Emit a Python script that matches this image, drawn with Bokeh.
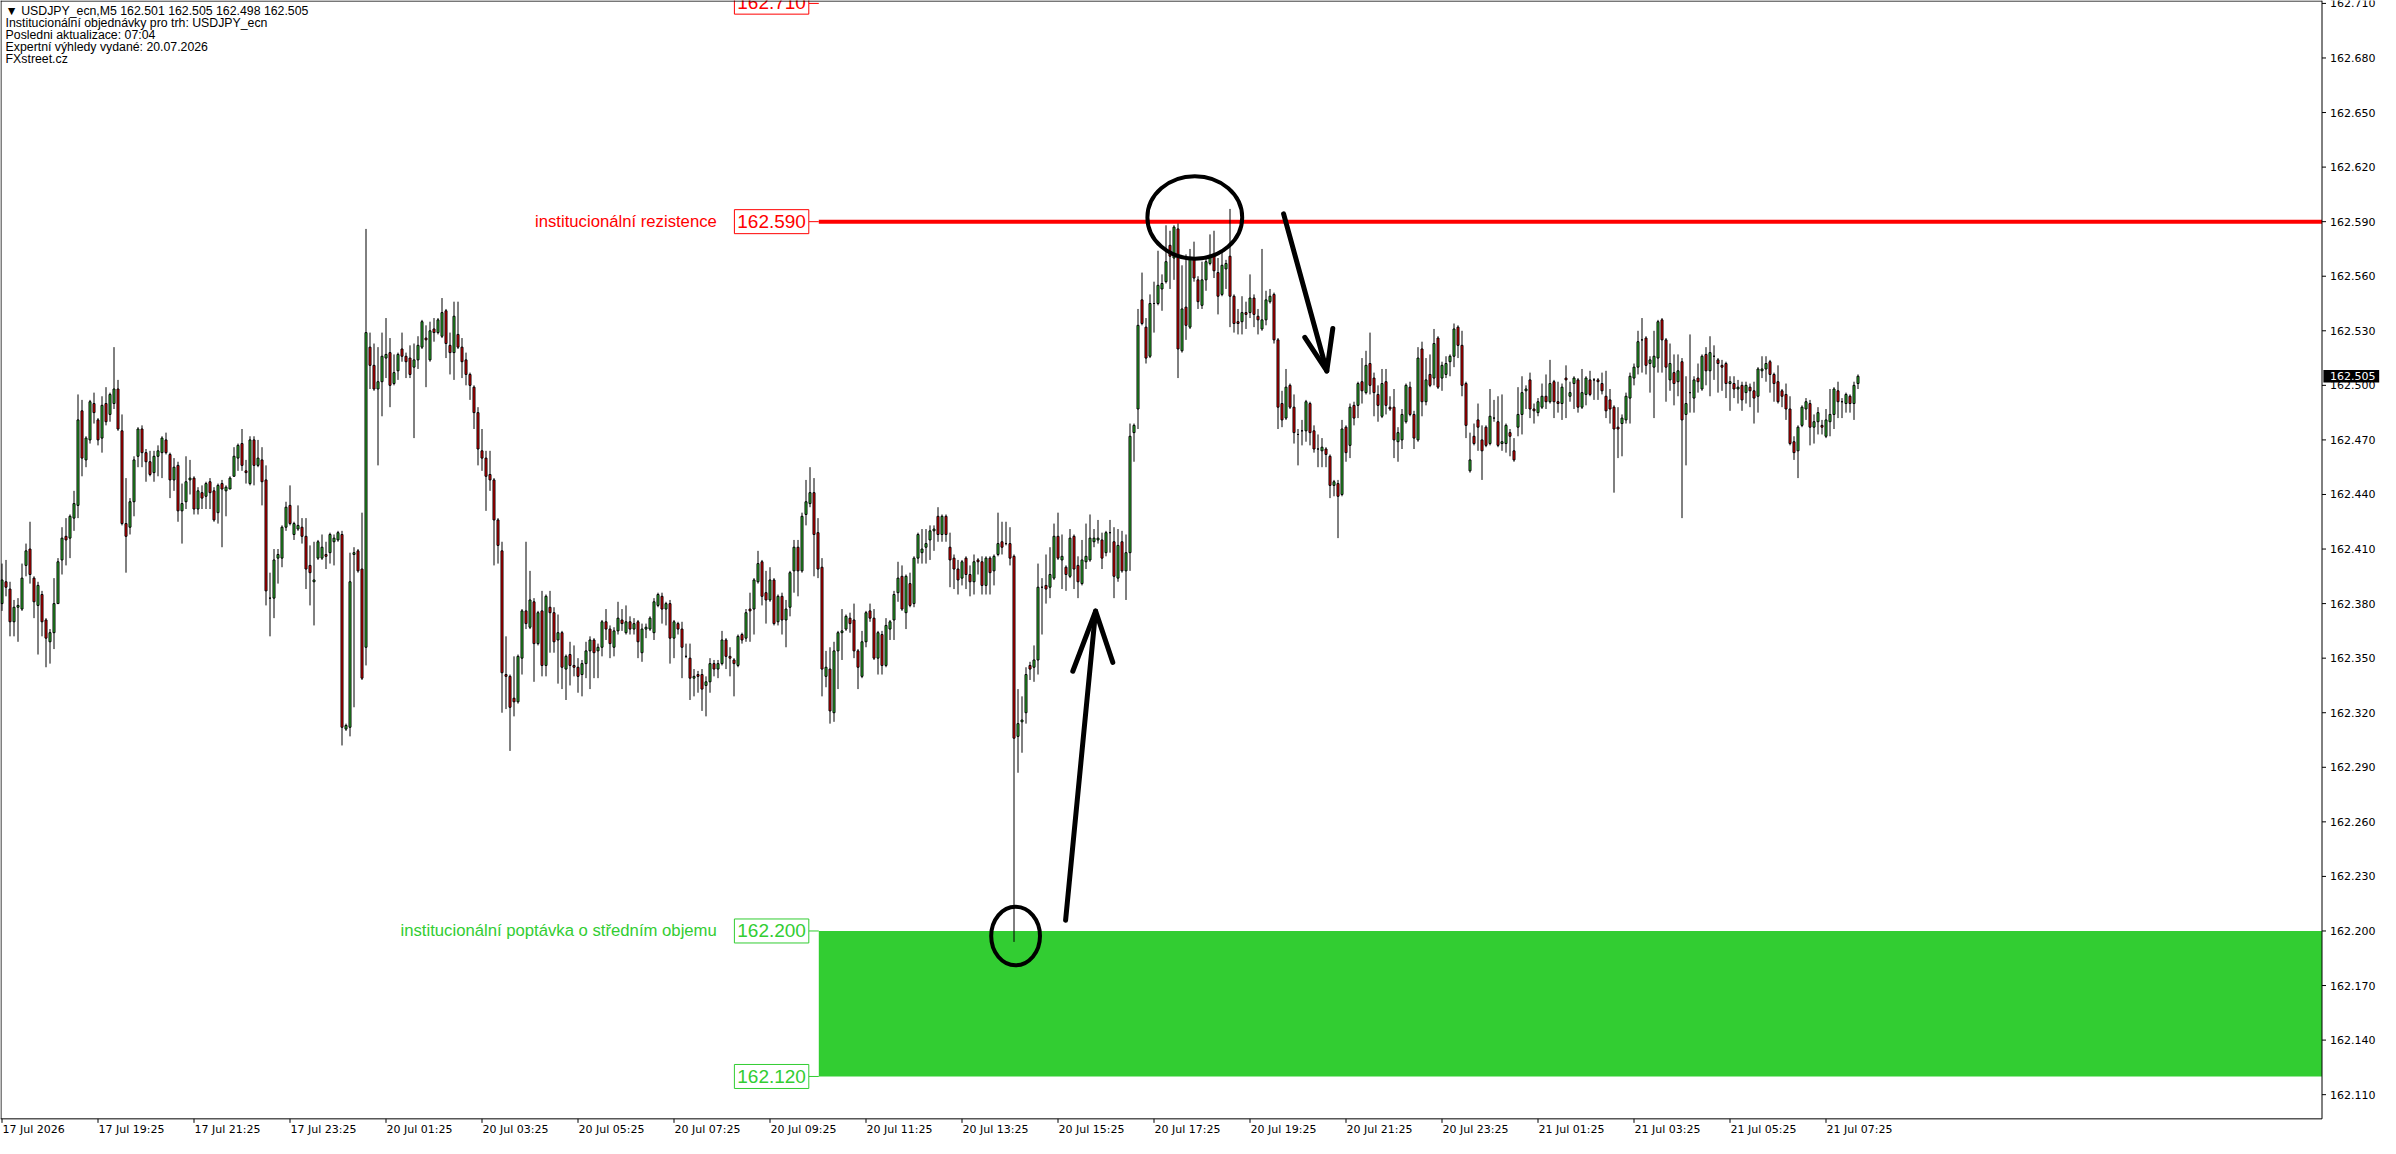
from bokeh.plotting import figure
from bokeh.models import Range1d
from bokeh.core.properties import value
from bokeh.embed import file_html
from bokeh.resources import INLINE

# USDJPY_ecn M5 bars, prices as points (0.001) above 162.000
BASE = 162.0

o_pts = [
    380, 392, 388, 370, 378, 377, 401, 410, 394, 379,
    385, 371, 359, 364, 380, 404, 417, 416, 427, 434,
    486, 459, 470, 490, 481, 471, 490, 484, 490, 498,
    475, 424, 422, 436, 461, 476, 463, 458, 452, 461,
    463, 470, 462, 448, 456, 431, 436, 448, 449, 432,
    441, 439, 447, 442, 430, 446, 442, 443, 450, 460,
    468, 453, 446, 470, 456, 459, 448, 383, 383, 405,
    405, 422, 434, 418, 421, 422, 417, 401, 392, 405,
    405, 407, 408, 414, 415, 418, 311, 312, 407, 409,
    399, 356, 521, 511, 498, 502, 515, 518, 501, 508,
    520, 516, 515, 510, 514, 521, 526, 514, 531, 529,
    527, 541, 522, 518, 528, 521, 514, 506, 499, 485,
    464, 460, 451, 448, 426, 409, 341, 340, 328, 326,
    350, 376, 367, 381, 358, 376, 346, 378, 375, 360,
    364, 344, 352, 346, 345, 341, 347, 354, 360, 354,
    356, 370, 366, 356, 365, 371, 364, 370, 366, 370,
    353, 366, 366, 364, 379, 384, 377, 380, 361, 369,
    366, 351, 350, 339, 341, 341, 335, 337, 347, 344,
    347, 360, 351, 349, 346, 363, 361, 377, 377, 392,
    403, 386, 382, 393, 370, 384, 371, 378, 398, 411,
    398, 429, 435, 441, 419, 400, 340, 344, 320, 354,
    364, 366, 372, 371, 354, 340, 359, 376, 372, 350,
    363, 346, 366, 371, 386, 395, 375, 391, 380, 405,
    408, 411, 415, 420, 428, 418, 428, 411, 405, 399,
    394, 405, 396, 392, 404, 403, 390, 405, 398, 407,
    414, 413, 413, 406, 307, 315, 320, 346, 345, 349,
    389, 390, 389, 394, 417, 404, 400, 395, 417, 401,
    391, 403, 404, 414, 415, 415, 408, 419, 414, 394,
    414, 398, 408, 474, 487, 547, 532, 516, 545, 545,
    553, 557, 577, 570, 586, 519, 543, 532, 570, 558,
    544, 558, 567, 571, 562, 550, 564, 571, 549, 535,
    535, 540, 540, 548, 538, 531, 536, 546, 550, 525,
    490, 482, 500, 488, 473, 475, 475, 490, 475, 465,
    464, 465, 461, 445, 446, 440, 477, 467, 489, 489,
    502, 496, 512, 504, 495, 483, 502, 488, 488, 469,
    470, 480, 499, 484, 470, 520, 491, 506, 504, 526,
    504, 506, 513, 516, 532, 522, 501, 453, 472, 481,
    470, 477, 468, 482, 480, 468, 468, 474, 464, 477,
    484, 497, 503, 487, 485, 488, 494, 491, 502, 491,
    490, 504, 494, 501, 503, 488, 495, 503, 503, 503,
    501, 494, 492, 488, 477, 479, 481, 493, 504, 510,
    525, 526, 512, 510, 515, 536, 525, 503, 507, 502,
    513, 484, 496, 493, 504, 498, 517, 508, 516, 514,
    511, 512, 501, 501, 498, 500, 496, 499, 497, 494,
    508, 509, 513, 506, 502, 497, 495, 487, 469, 464,
    478, 487, 490, 477, 480, 478, 472, 480, 484, 497,
    491, 490, 494, 490, 501,
]

h_pts = [
    402, 404, 392, 382, 383, 402, 413, 425, 395, 392,
    387, 372, 366, 394, 405, 422, 427, 429, 442, 495,
    492, 472, 492, 496, 482, 494, 499, 496, 521, 503,
    484, 449, 438, 461, 477, 478, 465, 464, 464, 467,
    472, 474, 463, 460, 458, 446, 461, 459, 450, 444,
    445, 447, 449, 444, 446, 448, 445, 450, 466, 468,
    476, 459, 472, 472, 470, 466, 456, 397, 410, 410,
    423, 436, 445, 425, 434, 427, 427, 412, 414, 415,
    418, 414, 419, 418, 420, 420, 314, 408, 411, 410,
    430, 586, 529, 523, 521, 529, 537, 526, 517, 518,
    529, 518, 522, 523, 527, 536, 533, 535, 537, 537,
    548, 542, 529, 546, 546, 526, 518, 507, 500, 488,
    476, 464, 464, 449, 427, 414, 362, 341, 351, 352,
    377, 414, 398, 383, 376, 387, 385, 387, 378, 374,
    365, 352, 359, 357, 350, 349, 359, 362, 361, 358,
    371, 377, 368, 367, 381, 377, 379, 373, 372, 371,
    369, 369, 373, 383, 386, 386, 381, 382, 371, 370,
    370, 358, 358, 344, 343, 344, 340, 350, 349, 349,
    365, 361, 356, 350, 363, 364, 377, 386, 394, 409,
    404, 398, 400, 394, 385, 386, 382, 398, 415, 415,
    430, 448, 455, 449, 427, 405, 354, 356, 359, 365,
    377, 374, 375, 380, 355, 365, 376, 380, 377, 365,
    365, 372, 371, 387, 403, 401, 396, 397, 406, 419,
    421, 421, 423, 423, 433, 429, 429, 419, 407, 404,
    404, 406, 401, 407, 405, 406, 406, 406, 407, 430,
    425, 425, 422, 407, 333, 329, 345, 348, 357, 402,
    394, 407, 411, 424, 430, 418, 401, 421, 418, 406,
    415, 424, 429, 421, 426, 419, 420, 426, 422, 421,
    420, 418, 479, 479, 542, 562, 537, 550, 557, 574,
    561, 588, 585, 588, 589, 566, 572, 575, 579, 560,
    568, 570, 583, 585, 570, 574, 569, 597, 550, 542,
    549, 546, 561, 550, 542, 575, 552, 553, 551, 526,
    497, 509, 501, 495, 476, 481, 492, 491, 478, 473,
    471, 466, 462, 448, 448, 481, 478, 490, 491, 502,
    515, 519, 529, 507, 500, 509, 509, 494, 498, 477,
    487, 501, 502, 486, 521, 524, 515, 517, 531, 527,
    513, 516, 517, 534, 533, 530, 502, 474, 479, 490,
    478, 478, 498, 492, 494, 495, 479, 476, 471, 499,
    505, 500, 507, 490, 493, 501, 506, 514, 503, 502,
    501, 511, 502, 505, 504, 509, 505, 508, 504, 504,
    507, 508, 498, 489, 488, 484, 496, 507, 512, 530,
    537, 527, 516, 530, 536, 537, 526, 523, 517, 517,
    515, 505, 528, 505, 512, 517, 521, 527, 522, 515,
    514, 513, 505, 505, 503, 502, 502, 501, 502, 510,
    516, 516, 514, 507, 511, 498, 501, 494, 472, 478,
    489, 493, 492, 484, 488, 481, 487, 498, 499, 502,
    493, 496, 495, 502, 506,
]

l_pts = [
    376, 384, 362, 362, 359, 376, 395, 391, 372, 352,
    362, 345, 347, 355, 380, 396, 401, 405, 420, 427,
    450, 455, 468, 479, 467, 463, 478, 480, 487, 475,
    423, 397, 418, 428, 455, 455, 447, 450, 447, 450,
    449, 462, 438, 442, 425, 413, 432, 440, 429, 429,
    432, 432, 432, 425, 424, 411, 428, 443, 450, 453,
    453, 446, 445, 445, 455, 434, 379, 362, 372, 391,
    400, 420, 423, 415, 420, 413, 388, 379, 368, 404,
    404, 399, 402, 401, 414, 302, 310, 307, 323, 397,
    338, 346, 498, 497, 456, 483, 504, 488, 500, 503,
    513, 504, 504, 471, 509, 520, 499, 513, 524, 528,
    526, 515, 506, 503, 520, 504, 500, 492, 476, 456,
    453, 431, 442, 401, 402, 320, 322, 299, 318, 325,
    341, 366, 366, 337, 357, 340, 340, 353, 353, 336,
    333, 327, 335, 340, 331, 329, 339, 333, 339, 339,
    351, 360, 350, 351, 363, 365, 363, 363, 363, 350,
    348, 361, 365, 360, 378, 369, 368, 347, 350, 363,
    339, 350, 327, 329, 331, 321, 318, 331, 340, 339,
    346, 344, 340, 329, 345, 358, 359, 359, 363, 391,
    379, 369, 381, 368, 368, 363, 356, 373, 386, 384,
    397, 423, 433, 395, 394, 329, 334, 314, 315, 333,
    349, 365, 364, 350, 333, 339, 356, 370, 349, 341,
    341, 345, 360, 360, 381, 376, 366, 378, 378, 402,
    402, 402, 404, 409, 414, 414, 414, 389, 388, 385,
    390, 388, 384, 385, 396, 385, 385, 385, 390, 406,
    407, 412, 401, 194, 287, 298, 314, 338, 337, 341,
    363, 380, 383, 393, 404, 388, 387, 394, 388, 383,
    390, 399, 403, 411, 413, 399, 406, 408, 383, 392,
    397, 382, 398, 458, 476, 533, 512, 515, 529, 544,
    541, 556, 553, 558, 504, 518, 525, 531, 557, 542,
    542, 552, 566, 559, 539, 549, 553, 532, 529, 528,
    528, 531, 537, 532, 528, 530, 533, 545, 523, 476,
    477, 481, 487, 468, 456, 467, 469, 467, 463, 455,
    455, 455, 438, 439, 416, 439, 458, 460, 478, 482,
    490, 495, 495, 483, 480, 482, 484, 486, 460, 458,
    465, 479, 483, 465, 469, 483, 489, 499, 500, 498,
    497, 504, 505, 510, 515, 494, 471, 452, 467, 464,
    448, 466, 467, 480, 466, 464, 463, 461, 458, 472,
    473, 487, 482, 479, 483, 487, 487, 490, 482, 485,
    481, 482, 491, 487, 485, 487, 489, 494, 492, 492,
    495, 482, 479, 441, 460, 461, 479, 479, 500, 506,
    507, 506, 496, 482, 507, 507, 491, 497, 489, 494,
    427, 456, 485, 485, 496, 497, 500, 494, 503, 496,
    497, 493, 486, 493, 490, 486, 490, 488, 479, 485,
    504, 502, 496, 491, 490, 488, 481, 467, 459, 449,
    477, 481, 467, 468, 473, 473, 471, 472, 476, 482,
    482, 485, 485, 481, 498,
]

c_pts = [
    393, 389, 370, 378, 379, 394, 409, 396, 381, 390,
    370, 361, 364, 380, 403, 416, 415, 428, 435, 481,
    460, 471, 491, 485, 470, 489, 480, 495, 498, 476,
    424, 417, 436, 459, 476, 463, 458, 451, 461, 464,
    471, 463, 448, 455, 431, 435, 447, 449, 432, 442,
    438, 446, 441, 426, 445, 443, 444, 449, 461, 467,
    456, 452, 470, 456, 460, 447, 387, 383, 404, 407,
    422, 433, 424, 424, 423, 417, 399, 397, 393, 414,
    411, 406, 418, 416, 419, 312, 313, 392, 408, 398,
    339, 529, 511, 498, 502, 516, 517, 500, 507, 517,
    516, 513, 506, 514, 522, 535, 525, 530, 529, 536,
    540, 523, 518, 538, 521, 513, 506, 500, 485, 465,
    460, 450, 448, 426, 412, 342, 340, 323, 326, 351,
    376, 369, 382, 358, 375, 346, 384, 375, 359, 364,
    345, 351, 346, 345, 340, 347, 354, 360, 353, 356,
    370, 366, 358, 365, 372, 369, 370, 366, 369, 359,
    366, 367, 372, 381, 385, 377, 380, 361, 370, 366,
    356, 351, 339, 340, 340, 333, 337, 347, 344, 347,
    360, 351, 350, 347, 362, 360, 375, 376, 393, 402,
    384, 382, 393, 369, 384, 371, 377, 397, 411, 398,
    428, 436, 441, 418, 399, 344, 345, 321, 354, 364,
    365, 373, 369, 354, 345, 359, 375, 372, 350, 364,
    346, 368, 370, 385, 394, 377, 395, 379, 405, 418,
    410, 413, 420, 421, 418, 428, 418, 404, 399, 393,
    403, 396, 392, 403, 403, 390, 405, 397, 406, 413,
    411, 413, 405, 306, 314, 316, 341, 344, 349, 389,
    389, 388, 396, 417, 405, 406, 396, 416, 399, 392,
    404, 406, 416, 416, 416, 405, 419, 419, 395, 412,
    398, 408, 472, 478, 533, 534, 515, 545, 545, 555,
    556, 568, 571, 587, 520, 542, 533, 570, 559, 546,
    558, 568, 571, 563, 549, 566, 567, 549, 534, 534,
    540, 539, 548, 539, 536, 536, 547, 549, 525, 488,
    481, 499, 488, 474, 473, 475, 491, 474, 465, 465,
    466, 462, 445, 447, 439, 476, 463, 488, 482, 501,
    497, 511, 500, 496, 489, 501, 489, 487, 470, 474,
    484, 500, 484, 471, 515, 491, 503, 500, 523, 499,
    511, 512, 516, 531, 522, 500, 478, 459, 468, 477,
    464, 467, 483, 482, 467, 469, 478, 472, 459, 484,
    496, 498, 487, 486, 491, 494, 491, 501, 491, 490,
    499, 503, 496, 504, 488, 496, 504, 495, 503, 502,
    497, 486, 487, 476, 476, 482, 494, 505, 510, 524,
    525, 511, 514, 516, 535, 525, 510, 512, 501, 508,
    481, 490, 496, 503, 502, 516, 508, 518, 516, 512,
    510, 501, 502, 498, 499, 492, 500, 497, 493, 509,
    509, 512, 506, 501, 491, 494, 487, 468, 463, 477,
    488, 491, 477, 480, 485, 477, 481, 484, 498, 491,
    491, 495, 490, 500, 505,
]

time_labels = [
    "17 Jul 2026", "17 Jul 19:25", "17 Jul 21:25", "17 Jul 23:25",
    "20 Jul 01:25", "20 Jul 03:25", "20 Jul 05:25", "20 Jul 07:25",
    "20 Jul 09:25", "20 Jul 11:25", "20 Jul 13:25", "20 Jul 15:25",
    "20 Jul 17:25", "20 Jul 19:25", "20 Jul 21:25", "20 Jul 23:25",
    "21 Jul 01:25", "21 Jul 03:25", "21 Jul 05:25", "21 Jul 07:25",
]
bars_per_label = 24

price_ticks = [
    162.110, 162.140, 162.170, 162.200, 162.230, 162.260, 162.290,
    162.320, 162.350, 162.380, 162.410, 162.440, 162.470, 162.500,
    162.530, 162.560, 162.590, 162.620, 162.650, 162.680, 162.710,
]

resistance = 162.590
top_level = 162.710
zone_top = 162.200
zone_bottom = 162.120
last_price = 162.505

header = [
    "\u25bc USDJPY_ecn,M5  162.501 162.505 162.498 162.505",
    "Institucionální objednávky pro trh: USDJPY_ecn",
    "Posledni aktualizace: 07:04",
    "Expertní výhledy vydané: 20.07.2026",
    "FXstreet.cz",
]

RED = "#FF0000"
GREEN = "#32CD32"
AXIS_FONT = value("DejaVu Sans")
LABEL_FONT = value("Liberation Sans")

n = len(c_pts)
idx = list(range(n))
opens = [BASE + v / 1000 for v in o_pts]
highs = [BASE + v / 1000 for v in h_pts]
lows = [BASE + v / 1000 for v in l_pts]
closes = [BASE + v / 1000 for v in c_pts]
tops = [max(a, b) for a, b in zip(opens, closes)]
bottoms = [min(a, b) for a, b in zip(opens, closes)]
body_colors = [GREEN if c >= o else RED for o, c in zip(opens, closes)]

# chart area ends at x_end (in bars), price scale drawn to the right of it,
# time scale drawn below y_floor -- MT4 style, everything inside one frame.
# 595 bars over 2380 px -> 4 px per bar, bar centres on half pixels
x_min = -0.375
x_max = 594.625
x_end = 580.0
y_floor = 162.0967
y_top = 162.7116
p = figure(width=2380, height=1138, output_backend="svg", toolbar_location=None,
           x_range=Range1d(x_min, x_max), y_range=Range1d(162.0859, y_top),
           x_axis_location=None, y_axis_location=None,
           min_border=0, min_border_left=0, min_border_right=0,
           min_border_top=0, min_border_bottom=0)
p.grid.visible = False
p.outline_line_color = None
p.background_fill_color = "white"
p.border_fill_color = "white"

# demand zone and its labels
p.quad(left=[204.2], right=[x_end], bottom=[zone_bottom], top=[zone_top],
       fill_color=GREEN, line_color=None)
p.segment(x0=[201.7, 201.7], y0=[zone_top, zone_bottom], x1=[204.2, 204.2],
          y1=[zone_top, zone_bottom], line_color=GREEN, line_width=1)
p.quad(left=[183.1, 183.1], right=[201.7, 201.7],
       bottom=[zone_top - 0.0066, zone_bottom - 0.0066],
       top=[zone_top + 0.0066, zone_bottom + 0.0066],
       fill_color="white", line_color=GREEN, line_width=1)
p.text(x=[192.4, 192.4], y=[zone_top, zone_bottom],
       text=["%.3f" % zone_top, "%.3f" % zone_bottom],
       text_align="center", text_baseline="middle", text_color=GREEN,
       text_font=LABEL_FONT, text_font_size="19px")
p.text(x=[178.7], y=[zone_top], text=["institucionální poptávka o středním objemu"],
       text_align="right", text_baseline="middle", text_color=GREEN,
       text_font=LABEL_FONT, text_font_size="16.7px")

# resistance line and labels
p.segment(x0=[204.2], y0=[resistance], x1=[x_end], y1=[resistance],
          line_color=RED, line_width=4)
p.segment(x0=[201.7, 201.7], y0=[resistance, top_level], x1=[204.2, 204.2],
          y1=[resistance, top_level], line_color=RED, line_width=1)
p.quad(left=[183.1, 183.1], right=[201.7, 201.7],
       bottom=[resistance - 0.0066, top_level - 0.0059],
       top=[resistance + 0.0066, top_level + 0.0073],
       fill_color="white", line_color=RED, line_width=1)
p.text(x=[192.4, 192.4], y=[resistance, top_level + 0.0007],
       text=["%.3f" % resistance, "%.3f" % top_level],
       text_align="center", text_baseline="middle", text_color=RED,
       text_font=LABEL_FONT, text_font_size="19px")
p.text(x=[178.7], y=[resistance], text=["institucionální rezistence"],
       text_align="right", text_baseline="middle", text_color=RED,
       text_font=LABEL_FONT, text_font_size="16.7px")

# candles
p.segment(x0=idx, y0=lows, x1=idx, y1=highs, line_color="black", line_width=1)
p.vbar(x=idx, width=0.5, top=tops, bottom=bottoms, fill_color=body_colors,
       line_color="black", line_width=1)

# hand drawn marks
p.ellipse(x=[253.4, 298.2], y=[162.1972, 162.5923], width=[12.2, 23.7],
          height=[0.0322, 0.0453], fill_color=None, line_color="black", line_width=4)
p.multi_line(xs=[[265.9, 273.4], [267.7, 273.4, 277.7],
                 [320.4, 331.2], [325.7, 331.2, 332.7]],
             ys=[[162.2059, 162.3759], [162.3428, 162.3759, 162.3477],
                 [162.5943, 162.5079], [162.5264, 162.5079, 162.5313]],
             line_color="black", line_width=5, line_cap="round", line_join="round")

# chart header
p.text(x=[0.9] * len(header), y=[162.7057, 162.6991, 162.6926, 162.6861, 162.6795],
       text=header, text_baseline="middle", text_align="left", text_color="black",
       text_font=LABEL_FONT, text_font_size="12.3px")

# frame of the chart area
p.segment(x0=[-0.25, x_min, x_min, x_end], y0=[y_floor, 162.7113, y_floor, y_floor],
          x1=[-0.25, x_end, x_end, x_end], y1=[y_top, 162.7113, y_floor, y_top],
          line_color="black", line_width=1)

# price scale
p.segment(x0=[x_end] * len(price_ticks), y0=price_ticks,
          x1=[x_end + 1.0] * len(price_ticks), y1=price_ticks,
          line_color="black", line_width=1)
p.text(x=[x_end + 2.0] * len(price_ticks), y=price_ticks,
       text=["%.3f" % t for t in price_ticks], text_align="left",
       text_baseline="middle", text_color="black",
       text_font=AXIS_FONT, text_font_size="11px")

# last price tag
p.quad(left=[x_end + 0.35], right=[x_end + 14.3], bottom=[last_price - 0.0035],
       top=[last_price + 0.0035], fill_color="black", line_color=None)
p.text(x=[x_end + 2.0], y=[last_price], text=["%.3f" % last_price],
       text_align="left", text_baseline="middle", text_color="white",
       text_font=AXIS_FONT, text_font_size="11px")

# time scale
time_ticks = [i * bars_per_label for i in range(len(time_labels))]
p.segment(x0=time_ticks, y0=[y_floor] * len(time_ticks), x1=time_ticks,
          y1=[y_floor - 0.0022] * len(time_ticks), line_color="black", line_width=1)
p.text(x=[t + 0.15 for t in time_ticks], y=[162.0906] * len(time_ticks),
       text=time_labels, text_align="left", text_baseline="middle",
       text_color="black", text_font=AXIS_FONT, text_font_size="11px")

open("out.html", "w").write(file_html(p, INLINE))
